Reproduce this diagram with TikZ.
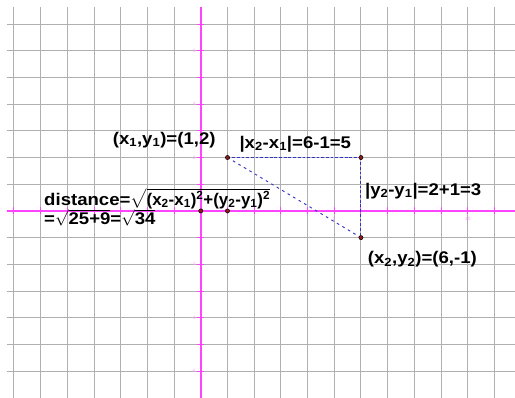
\documentclass[tikz,border=0pt]{standalone}
\usepackage{fontspec}
\setmainfont{Liberation Sans}
\newfontfamily\lblfont[FakeStretch=1.1]{Liberation Sans}
\usepackage{amsmath}
\usepackage{tikz}
\usetikzlibrary{positioning}

\definecolor{axiscol}{HTML}{FF44FF}
\definecolor{tickcol}{HTML}{FF9CFF}
\definecolor{dashcol}{HTML}{3434C4}
\definecolor{ptcol}{HTML}{8B1A1A}

\begin{document}
\begin{tikzpicture}[
    gridline/.style={draw=gray!62, line width=1pt},
    axis/.style={draw=axiscol, line width=1.6pt},
    tick/.style={draw=axiscol, line width=1pt},
    ticklbl/.style={font=\fontsize{5}{5}\selectfont, text=tickcol, inner sep=0.5pt},
    lbl/.style={font=\lblfont\fontsize{18}{19}\selectfont\bfseries, inner sep=0pt},
    seg/.style={draw=dashcol, line width=1pt, dash pattern=on 3pt off 2pt},
    diag/.style={draw=dashcol, line width=1pt, dash pattern=on 2.8pt off 4pt},
    pt/.style={circle, fill=ptcol, draw=black, line width=0.5pt, inner sep=0pt, minimum size=4.5pt}
]
    \useasboundingbox (-7.52,-7.0) rectangle (11.77,7.9);

    % grid
    \foreach \x in {-7,...,11} \draw[gridline] (\x,-7) -- (\x,7.65);
    \foreach \y in {-6,...,7} \draw[gridline] (-7.27,\y) -- (11.77,\y);

    % axes with ticks
    \draw[axis] (-7.27,0) -- (11.77,0);
    \draw[axis] (0,-7) -- (0,7.65);
    \foreach \x in {-7,...,11} \draw[tick] (\x,-0.13) -- (\x,0.13);
    \foreach \y in {-6,...,7} \draw[tick] (-0.13,\y) -- (0.13,\y);
    \foreach \y in {-6,-4,-2,2,4,6} \node[ticklbl, anchor=east] (ty\y) at (-0.17,\y) {\y};
    \foreach \x in {-5,5,10} \node[ticklbl, anchor=north] (tx\x) at (\x,-0.22) {\x};

    % points
    \coordinate (p1) at (1,2);
    \coordinate (c) at (6,2);
    \coordinate (p2) at (6,-1);
    \coordinate (o) at (0,0);
    \coordinate (a) at (1,0);

    % legs and hypotenuse
    \draw[seg] (p1) -- (c);
    \draw[seg] (c) -- (p2);
    \draw[diag] (p1) -- (p2);

    \node[pt] (dp1) at (p1) {};
    \node[pt] (dc) at (c) {};
    \node[pt] (dp2) at (p2) {};
    \node[pt] (do) at (o) {};
    \node[pt] (da) at (a) {};

    % labels
    \node[lbl] (lp1) at (-1.37,2.66) {(x\textsubscript{1},y\textsubscript{1})=(1,2)};
    \node[lbl] (ldx) at (3.54,2.51) {|x\textsubscript{2}-x\textsubscript{1}|=6-1=5};
    \node[lbl] (ldy) at (8.33,0.75) {|y\textsubscript{2}-y\textsubscript{1}|=2+1=3};
    \node[lbl] (lp2) at (8.3,-1.8) {(x\textsubscript{2},y\textsubscript{2})=(6,-1)};

    % distance formula
    \node[lbl, anchor=base west] (dist) at (-5.87,0.22)
        {distance=$\smash[b]{\sqrt{\mbox{\rmfamily(x\textsubscript{2}-x\textsubscript{1})\textsuperscript{2}+(y\textsubscript{2}-y\textsubscript{1})\textsuperscript{2}}}}$};
    \node[lbl, anchor=base west] (dval) at ([yshift=-0.74cm]dist.base west)
        {=$\smash[t]{\sqrt{\mbox{25+9}}}$=$\smash[t]{\sqrt{\mbox{34}}}$};
\end{tikzpicture}
\end{document}
